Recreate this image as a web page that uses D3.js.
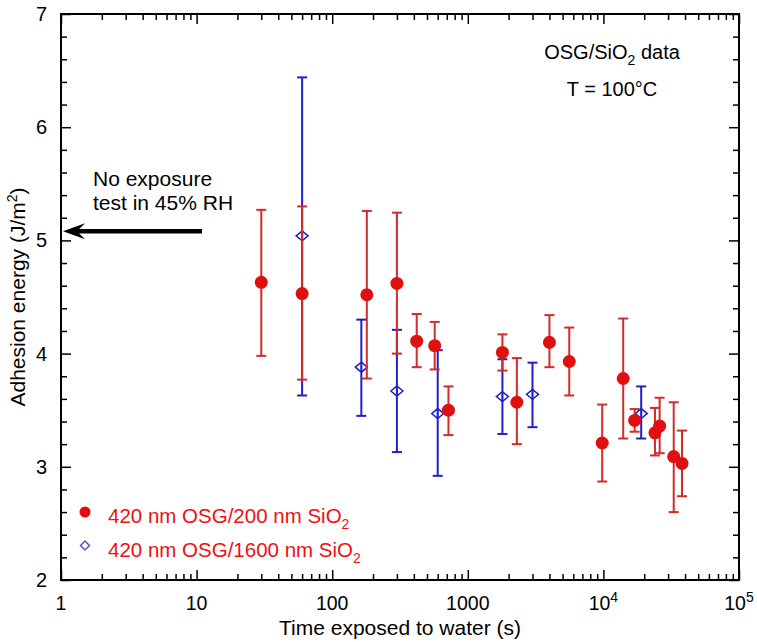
<!DOCTYPE html>
<html>
<head>
<meta charset="utf-8">
<script src="https://cdn.jsdelivr.net/npm/d3@7"></script>
<style>
html,body{margin:0;padding:0;background:#fff;}
svg{display:block;font-family:"Liberation Sans",Arial,Helvetica,sans-serif;}
</style>
</head>
<body>
<svg id="chart" width="757" height="642"></svg>
<script>
// Series: 420 nm OSG / 200 nm SiO2 (red, filled)
const redX  = [30, 60, 180, 300, 420, 570, 720, 1800, 2300, 4000, 5600, 9800, 14000, 17000, 24000, 26000, 33000, 38000];
const redY  = [4.63, 4.53, 4.52, 4.62, 4.11, 4.07, 3.50, 4.01, 3.57, 4.10, 3.93, 3.21, 3.78, 3.41, 3.30, 3.36, 3.09, 3.03];
const redHi = [5.27, 5.30, 5.26, 5.245, 4.35, 4.28, 3.71, 4.17, 3.96, 4.34, 4.23, 3.55, 4.31, 3.51, 3.52, 3.61, 3.57, 3.32];
const redLo = [3.98, 3.77, 3.78, 4.00, 3.88, 3.86, 3.28, 3.85, 3.20, 3.88, 3.63, 2.87, 3.25, 3.31, 3.10, 3.12, 2.60, 2.74];
// Series: 420 nm OSG / 1600 nm SiO2 (blue, open diamonds)
const blueX  = [60, 164, 300, 600, 1800, 3000, 19000];
const blueY  = [5.04, 3.88, 3.67, 3.47, 3.62, 3.64, 3.47];
const blueHi = [6.44, 4.30, 4.21, 4.03, 3.95, 3.92, 3.71];
const blueLo = [3.63, 3.45, 3.13, 2.92, 3.29, 3.35, 3.25];
// Reference: no exposure test in 45% RH
const refValue = 5.08;
// Axes
const xDomain = [1, 1e5];
const yDomain = [2, 7];
const xMajor = [1, 10, 100, 1000, 1e4, 1e5];
const xLabels = [["1",""],["10",""],["100",""],["1000",""],["10","4"],["10","5"]];
const yMajor = [2, 3, 4, 5, 6, 7];

const svg = d3.select("#chart");
const L = 61, R = 739, T = 14, B = 580;
const x = d3.scaleLog().domain(xDomain).range([L, R]);
const y = d3.scaleLinear().domain(yDomain).range([B, T]);

const redC = "#e01010", redBar = "#d42a2a", blueC = "#1f1fcc";

// minor x ticks
const xMinor = [];
for (let d = 1; d < 1e5; d *= 10) for (let k = 2; k <= 9; k++) xMinor.push(d * k);
const yMinor = d3.range(2, 7.001, 0.2).filter(v => Math.abs(v - Math.round(v)) > 1e-6);

// axes with inward ticks
const bottomAxis = d3.axisBottom(x).tickValues(xMajor).tickSizeInner(-10).tickSizeOuter(0).tickFormat("");
const bottomMinor = d3.axisBottom(x).tickValues(xMinor).tickSizeInner(-6).tickSizeOuter(0).tickFormat("");
const topAxis = d3.axisTop(x).tickValues(xMajor).tickSizeInner(-10).tickSizeOuter(0).tickFormat("");
const topMinor = d3.axisTop(x).tickValues(xMinor).tickSizeInner(-6).tickSizeOuter(0).tickFormat("");
const leftAxis = d3.axisLeft(y).tickValues(yMajor).tickSizeInner(-10).tickSizeOuter(0).tickFormat("");
const leftMinor = d3.axisLeft(y).tickValues(yMinor).tickSizeInner(-6).tickSizeOuter(0).tickFormat("");
const rightAxis = d3.axisRight(y).tickValues(yMajor).tickSizeInner(-10).tickSizeOuter(0).tickFormat("");
const rightMinor = d3.axisRight(y).tickValues(yMinor).tickSizeInner(-6).tickSizeOuter(0).tickFormat("");

function addAxis(ax, tx, ty) {
  const g = svg.append("g").attr("transform", `translate(${tx},${ty})`).call(ax);
  g.selectAll(".domain").remove();
  g.selectAll("line").attr("stroke", "#000").attr("stroke-width", 1.5);
}
addAxis(bottomAxis, 0, B); addAxis(bottomMinor, 0, B);
addAxis(topAxis, 0, T); addAxis(topMinor, 0, T);
addAxis(leftAxis, L, 0); addAxis(leftMinor, L, 0);
addAxis(rightAxis, R, 0); addAxis(rightMinor, R, 0);

svg.append("rect").attr("x", L).attr("y", T).attr("width", R - L).attr("height", B - T)
  .attr("fill", "none").attr("stroke", "#000").attr("stroke-width", 2);

// tick labels
const xl = svg.append("g").attr("font-size", 19.5).attr("fill", "#000");
xMajor.forEach((v, i) => {
  const t = xl.append("text").attr("x", x(v)).attr("y", 610).attr("text-anchor", "middle");
  t.append("tspan").text(xLabels[i][0]);
  if (xLabels[i][1]) t.append("tspan").attr("dy", -8).attr("font-size", 14).text(xLabels[i][1]);
});
svg.append("g").attr("font-size", 20).selectAll("text").data(yMajor).join("text")
  .attr("x", 47).attr("y", d => y(d) + 7).attr("text-anchor", "end").text(d => d);

// axis titles
svg.append("text").attr("x", 400).attr("y", 635).attr("text-anchor", "middle").attr("font-size", 21)
  .text("Time exposed to water (s)");
const yt = svg.append("text").attr("transform", `translate(25,${(T + B) / 2}) rotate(-90)`)
  .attr("text-anchor", "middle").attr("font-size", 21);
yt.append("tspan").text("Adhesion energy (J/m");
yt.append("tspan").attr("dy", -8).attr("font-size", 14).text("2");
yt.append("tspan").attr("dy", 8).text(")");

// data
const blue = blueX.map((v, i) => ({x: v, y: blueY[i], hi: blueHi[i], lo: blueLo[i]}));
const red = redX.map((v, i) => ({x: v, y: redY[i], hi: redHi[i], lo: redLo[i]}));

function errBars(data, color, w) {
  const g = svg.append("g").attr("stroke", color).attr("stroke-width", w);
  data.forEach(d => {
    const cx = x(d.x);
    g.append("line").attr("x1", cx).attr("x2", cx).attr("y1", y(d.hi)).attr("y2", y(d.lo));
    g.append("line").attr("x1", cx - 5).attr("x2", cx + 5).attr("y1", y(d.hi)).attr("y2", y(d.hi));
    g.append("line").attr("x1", cx - 5).attr("x2", cx + 5).attr("y1", y(d.lo)).attr("y2", y(d.lo));
  });
}
errBars(blue, blueC, 2);
svg.append("g").selectAll("path").data(blue).join("path")
  .attr("d", d => { const cx = x(d.x), cy = y(d.y); return `M${cx-6},${cy}L${cx},${cy-5}L${cx+6},${cy}L${cx},${cy+5}Z`; })
  .attr("fill", "#fff").attr("fill-opacity", 0.6).attr("stroke", blueC).attr("stroke-width", 1.5);
svg.append("g").attr("stroke", blueC).attr("stroke-width", 2).selectAll("line").data(blue).join("line")
  .attr("x1", d => x(d.x)).attr("x2", d => x(d.x)).attr("y1", d => y(d.y) - 5).attr("y2", d => y(d.y) + 5);

errBars(red, redBar, 2);
svg.append("g").selectAll("circle").data(red).join("circle")
  .attr("cx", d => x(d.x)).attr("cy", d => y(d.y)).attr("r", 6.5).attr("fill", redC);

// arrow annotation
const ay = y(refValue);
svg.append("line").attr("x1", x(1) + 14).attr("x2", 202).attr("y1", ay).attr("y2", ay)
  .attr("stroke", "#000").attr("stroke-width", 4.5);
svg.append("path").attr("d", `M${x(1)+2},${ay} L${x(1)+24},${ay-8} L${x(1)+16},${ay} L${x(1)+24},${ay+8} Z`).attr("fill", "#000");
svg.append("text").attr("x", 93).attr("y", 186).attr("font-size", 21).text("No exposure");
svg.append("text").attr("x", 93).attr("y", 210).attr("font-size", 21).text("test in 45% RH");

// top-right annotation
const a1 = svg.append("text").attr("x", 612).attr("y", 59).attr("text-anchor", "middle").attr("font-size", 20);
a1.append("tspan").text("OSG/SiO");
a1.append("tspan").attr("dy", 6).attr("font-size", 14).text("2");
a1.append("tspan").attr("dy", -6).text(" data");
svg.append("text").attr("x", 612).attr("y", 96).attr("text-anchor", "middle").attr("font-size", 20).text("T = 100°C");

// legend
svg.append("circle").attr("cx", 85).attr("cy", 512).attr("r", 5.5).attr("fill", redC);
svg.append("path").attr("d", "M80.5,545.5L85,541L89.5,545.5L85,550Z").attr("fill", "none").attr("stroke", "#5555cc").attr("stroke-width", 1.5);
const lg = svg.append("g").attr("fill", "#ee1111").attr("font-size", 20.5);
[["420 nm OSG/200 nm SiO", 523], ["420 nm OSG/1600 nm SiO", 557]].forEach(([s, yy]) => {
  const t = lg.append("text").attr("x", 108).attr("y", yy);
  t.append("tspan").text(s);
  t.append("tspan").attr("dy", 6).attr("font-size", 14).text("2");
});
</script>
</body>
</html>
